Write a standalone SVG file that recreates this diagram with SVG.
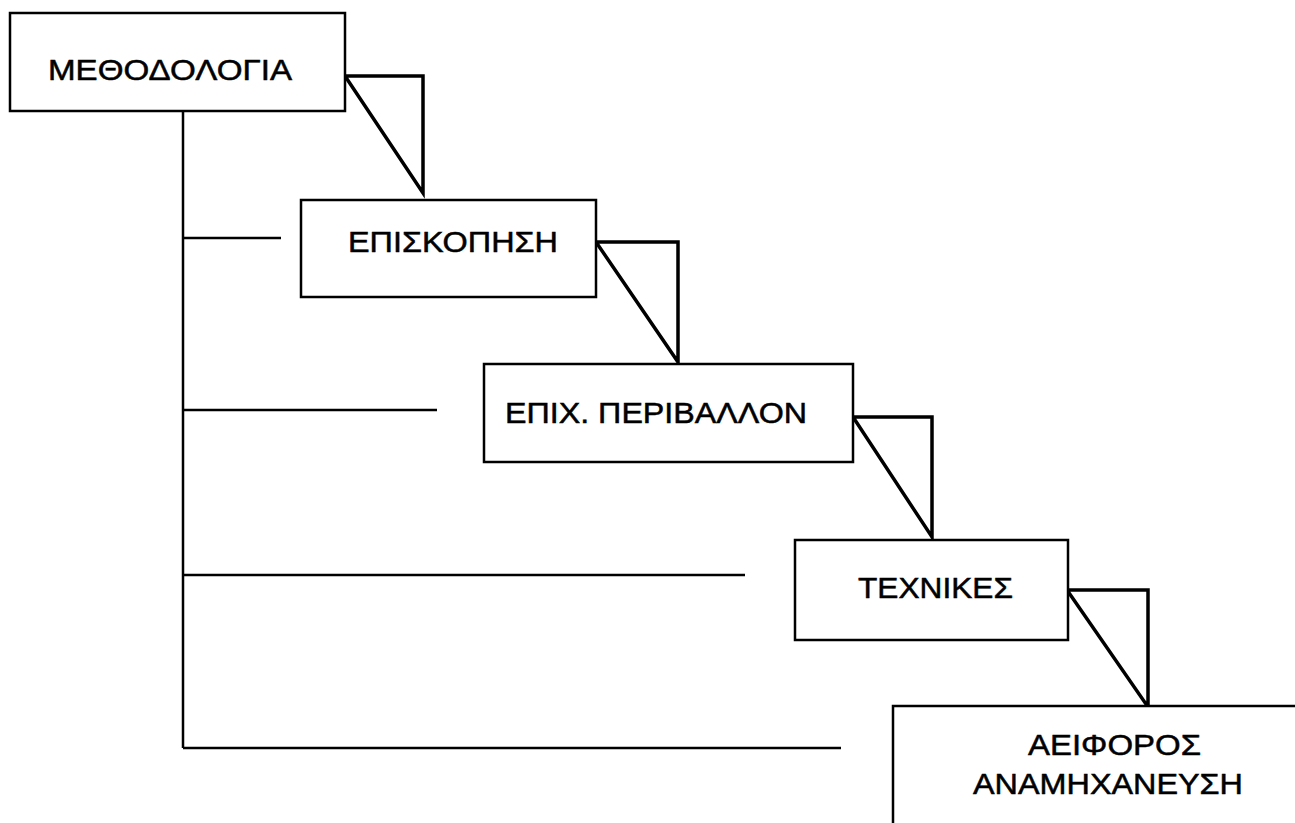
<svg xmlns="http://www.w3.org/2000/svg" width="1295" height="823" viewBox="0 0 1295 823">
  <style>
    .box { fill: #fff; stroke: #000; stroke-width: 2.5; }
    .tri { fill: none; stroke: #000; stroke-width: 3.5; stroke-linejoin: miter; }
    .link { fill: none; stroke: #000; stroke-width: 2.5; }
    .lbl { font-family: "Liberation Sans", Arial, sans-serif; font-size: 29px; fill: #000; stroke: #000; stroke-width: 0.5; }
  </style>
  <rect width="1295" height="823" fill="#fff"/>

  <!-- tree connectors from the top box to each step -->
  <g id="connectors">
    <path class="link" d="M183 111 V748"/>
    <path class="link" d="M183 238 H281"/>
    <path class="link" d="M183 410 H437"/>
    <path class="link" d="M183 575 H745"/>
    <path class="link" d="M183 748 H841"/>
    <!-- step-down triangles linking consecutive boxes -->
    <path class="tri" d="M345 76 H423 V193 Z"/>
    <path class="tri" d="M596 242 H678 V362 Z"/>
    <path class="tri" d="M853 417 H932 V537 Z"/>
    <path class="tri" d="M1067 590 H1148 V707 Z"/>
  </g>

  <g id="node-methodologia">
    <rect class="box" x="10" y="13" width="335" height="98"/>
    <text class="lbl" x="48" y="80" textLength="244" lengthAdjust="spacingAndGlyphs">ΜΕΘΟΔΟΛΟΓΙΑ</text>
  </g>

  <g id="node-episkopisi">
    <rect class="box" x="301" y="200" width="295" height="97"/>
    <text class="lbl" x="348" y="252" textLength="210" lengthAdjust="spacingAndGlyphs">ΕΠΙΣΚΟΠΗΣΗ</text>
  </g>

  <g id="node-perivallon">
    <rect class="box" x="484" y="364" width="369" height="98"/>
    <text class="lbl" x="505" y="423" textLength="302" lengthAdjust="spacingAndGlyphs">ΕΠΙΧ. ΠΕΡΙΒΑΛΛΟΝ</text>
  </g>

  <g id="node-texnikes">
    <rect class="box" x="795" y="540" width="273" height="100"/>
    <text class="lbl" x="858" y="598" textLength="155" lengthAdjust="spacingAndGlyphs">ΤΕΧΝΙΚΕΣ</text>
  </g>

  <g id="node-anamixaneusi">
    <path class="box" d="M893 823 V706 H1295" fill="none"/>
    <text class="lbl" x="1028" y="755" textLength="173" lengthAdjust="spacingAndGlyphs">ΑΕΙΦΟΡΟΣ</text>
    <text class="lbl" x="973" y="794" textLength="270" lengthAdjust="spacingAndGlyphs">ΑΝΑΜΗΧΑΝΕΥΣΗ</text>
  </g>
</svg>
